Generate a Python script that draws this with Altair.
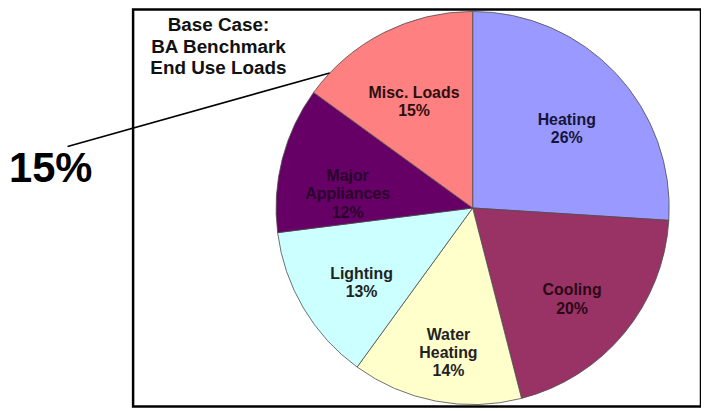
import altair as alt
import pandas as pd

categories = ["Heating", "Cooling", "Water Heating", "Lighting", "Major Appliances", "Misc. Loads"]
label_lines = ["Heating", "Cooling", "Water\nHeating", "Lighting", "Major\nAppliances", "Misc. Loads"]
shares = [26, 20, 14, 13, 12, 15]
slice_colors = ["#9999FF", "#993366", "#FFFFCC", "#CCFFFF", "#660066", "#FF8080"]
label_colors = ["#15153a", "#2a0818", "#222222", "#222222", "#2a002a", "#2a1010"]
title_lines = ["Base Case:", "BA Benchmark", "End Use Loads"]
callout = ["15%"]

df = pd.DataFrame({
    "cat": categories,
    "value": shares,
    "order": list(range(len(categories))),
    "text": [f"{l}\n{v}%" for l, v in zip(label_lines, shares)],
})

FONT = "Liberation Sans"
CX, CY, R = 342, 200, 198

base = alt.Chart(df).encode(
    theta=alt.Theta("value:Q", stack=True),
    order=alt.Order("order:Q"),
)

pie = base.mark_arc(radius=R, stroke="#4d4d4d", strokeWidth=0.8).encode(
    x=alt.value(CX), y=alt.value(CY),
    color=alt.Color("cat:N", scale=alt.Scale(domain=categories, range=slice_colors), legend=None),
)

labels = base.mark_text(
    radius=130, font=FONT, fontSize=16, fontWeight="bold", lineBreak="\n",
    lineHeight=18.5, align="center", baseline="middle",
).encode(
    x=alt.value(CX), y=alt.value(CY),
    text="text:N",
    color=alt.Color("cat:N", scale=alt.Scale(domain=categories, range=label_colors), legend=None),
)

title = alt.Chart(pd.DataFrame({"t": ["\n".join(title_lines)]})).mark_text(
    font=FONT, fontSize=19, fontWeight="bold", lineBreak="\n", lineHeight=21.5,
    align="center", baseline="alphabetic", color="#111111",
).encode(text="t:N", x=alt.value(86), y=alt.value(22))

leader = alt.Chart(pd.DataFrame({"k": [0]})).mark_rule(color="black", strokeWidth=1.6).encode(
    x=alt.value(-66), y=alt.value(138), x2=alt.value(198), y2=alt.value(64),
)

big = alt.Chart(pd.DataFrame({"t": callout})).mark_text(
    font=FONT, fontSize=42, fontWeight="bold", align="center", baseline="alphabetic", color="black",
).encode(text="t:N", x=alt.value(-83), y=alt.value(174))

chart = alt.layer(pie, labels, title, leader, big).resolve_scale(color="independent").properties(
    width=572, height=400,
    autosize=alt.AutoSizeParams(type="none"),
    padding={"left": 126, "top": 0, "right": 0, "bottom": 0},
    background="white",
).configure_view(stroke="black", strokeWidth=2.5)

chart.save("out.html", embed_options={"renderer": "svg", "actions": False})
